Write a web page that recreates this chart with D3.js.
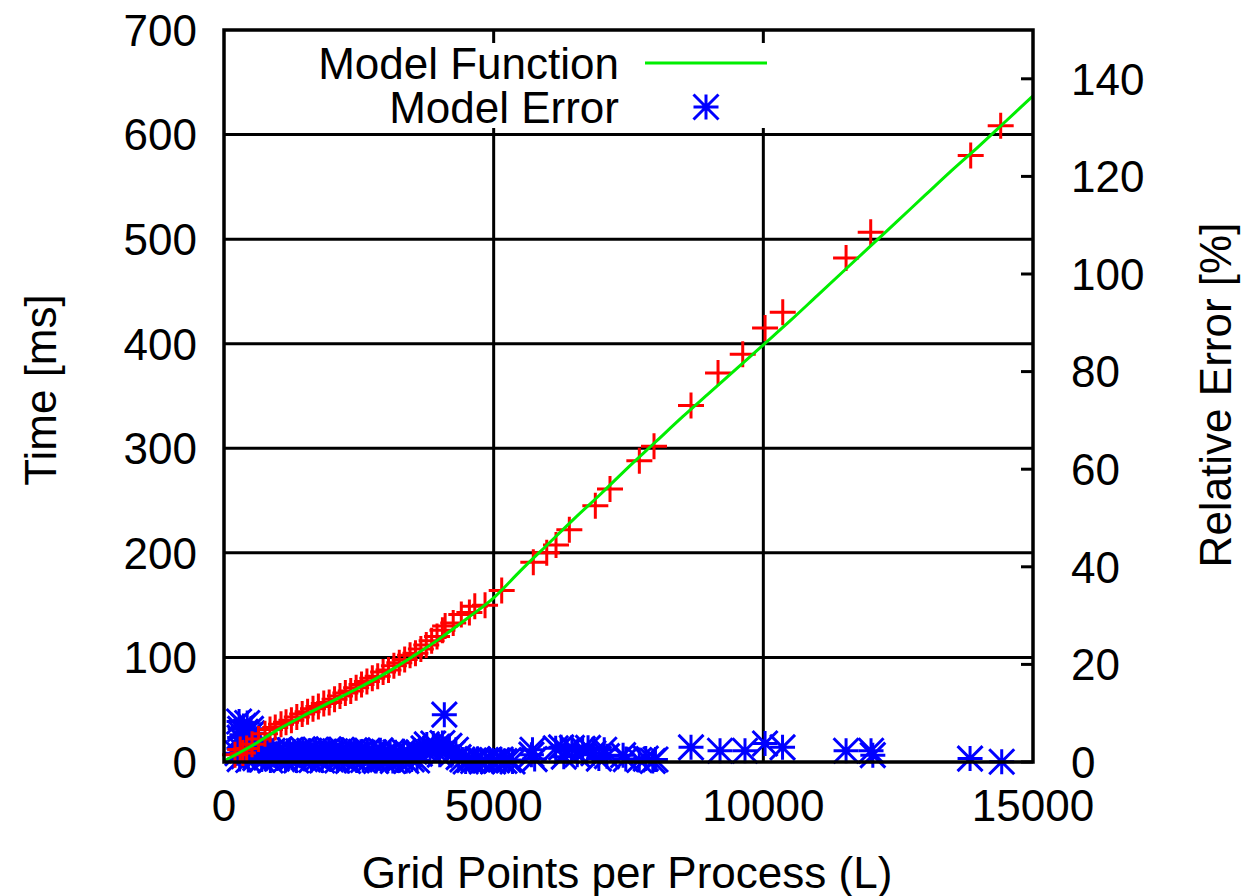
<!DOCTYPE html>
<html>
<head>
<meta charset="utf-8">
<script src="https://cdn.jsdelivr.net/npm/d3@7"></script>
<style>
  html, body { margin: 0; padding: 0; background: #fff; }
  svg { display: block; }
  text { font-family: "Liberation Sans", Arial, Helvetica, sans-serif; fill: #000; }
</style>
</head>
<body>
<svg id="chart" width="1242" height="896"></svg>
<script>
// ---------- data ----------
const xTicks = [0, 5000, 10000, 15000];
const yLeftTicks = [0, 100, 200, 300, 400, 500, 600, 700];
const yRightTicks = [0, 20, 40, 60, 80, 100, 120, 140];

// measured times (red +)
const measuredL = [204, 300, 350, 420, 520, 640, 760, 853, 950,
  1057, 1150, 1250, 1350, 1450, 1550, 1650, 1750, 1850, 1950,
  2050, 2150, 2250, 2350, 2450, 2550, 2650, 2750, 2850, 2950,
  3050, 3150, 3250, 3350, 3450, 3550, 3650, 3750, 3850, 3950,
  4050, 4100, 4250, 4400, 4550, 4650, 4840,
  5149, 5735, 5984, 6156, 6403, 6885, 7157, 7701, 7973,
  8659, 9160, 9618, 10032, 10360, 11534, 11991, 13845, 14401];
const measuredMs = [7, 12, 8.5, 13, 17, 22, 27, 31, 33,
  36, 38, 40, 43, 46, 48, 51, 53, 56, 57,
  60, 63, 66, 68, 71, 74, 77, 80, 82, 86,
  88, 92, 95, 98, 102, 104, 108, 112, 116, 120,
  126, 130, 133, 141, 143, 149, 150,
  164, 191, 200, 207.5, 222, 245, 261, 288, 302,
  341, 372, 390, 415, 430, 482, 506.5, 580, 608.5];

// model function (green line)
const modelL = [0, 500, 1000, 1500, 2000, 2500, 3000, 3500, 4000, 4500, 5000,
  5500, 6000, 6500, 7000, 7500, 8000, 8500, 9000, 9500, 10000,
  10500, 11000, 11500, 12000, 12500, 13000, 13500, 14000, 14500, 15000];
const modelMs = [1, 15, 31, 45, 58, 71, 85, 101, 118, 137, 157,
  183, 208, 233, 257, 282, 306, 330, 353, 376, 399,
  422, 446, 470, 494, 518, 542, 566, 589, 613, 637];

// model error (blue asterisks, right axis %)
const errorL = [280, 300, 330, 360, 400, 430, 470, 500, 520, 290,
  250, 290, 330, 370, 410, 450, 490, 540, 580, 620, 660, 700, 740, 780, 820, 860, 900, 940, 980,
  1020, 1060, 1100, 1140, 1180, 1220, 1260, 1300, 1340, 1380, 1420, 1460, 1500, 1540, 1580, 1620,
  1660, 1700, 1740, 1780, 1820, 1860, 1900, 1940, 1980, 2020, 2060, 2100, 2140, 2180, 2220, 2260,
  2300, 2340, 2380, 2420, 2460, 2500, 2540, 2580, 2620, 2660, 2700, 2740, 2780, 2820, 2860, 2900,
  2940, 2980,
  3030, 3080, 3130, 3180, 3230, 3280, 3330, 3380, 3430, 3480, 3530, 3580, 3630,
  3700, 3760, 3820, 3880, 3940, 4000, 4050, 4085, 4120, 4180, 4240, 4300, 4350,
  4420, 4480, 4550, 4620, 4700, 4780, 4850, 4920, 4990, 5060, 5130, 5200, 5280, 5350,
  5700, 5720, 5760, 6150, 6250, 6300, 6350, 6450, 6550, 6650,
  6750, 6850, 6950, 7050, 7100, 7400, 7450, 7700, 7820, 7950, 8000,
  8659, 9197, 9660, 10032, 10356, 11534, 11997, 12030, 13833, 14420];
const errorPct = [8.3, 6.8, 5.6, 7.4, 6.2, 8.0, 5.4, 6.8, 5.9, 5.0,
  1.8, 0.6, 2.4, 1.2, 2.0, 0.4, 2.5, 1.5, 0.8, 2.2, 1.7, 0.5, 2.6, 1.0, 1.9, 0.3, 2.3, 1.4, 0.7,
  2.5, 1.1, 2.0, 0.4, 1.6, 2.4, 0.9, 1.8, 0.3, 2.2, 1.3, 2.6, 0.6, 1.7, 2.3, 0.4,
  1.5, 2.5, 0.8, 1.9, 0.3, 2.1, 1.2, 2.6, 0.5, 1.6, 2.2, 0.3, 1.4, 2.5, 0.7, 1.8,
  0.2, 2.0, 1.0, 2.4, 0.3, 1.5, 2.1, 0.4, 1.7, 2.3, 0.6, 1.3, 2.0, 0.2, 1.1, 2.4,
  0.5, 1.6,
  0.4, 1.8, 0.2, 2.0, 0.3, 1.2, 2.2, 0.2, 1.5, 0.5, 2.1, 0.3, 1.7,
  2.8, 3.6, 2.2, 3.8, 3.0, 1.5, 3.9, 9.7, 2.6, 3.3, 1.8, 2.5, 1.0,
  0.5, 0.1, 0.4, 0.2, 0.6, 0.1, 0.3, 0.5, 0.1, 0.3, 0.5, 0.2, 0.4, 0.1,
  1.5, 2.5, 0.6, 2.8, 3.0, 1.1, 2.2, 2.9, 1.5, 2.7,
  2.9, 1.8, 0.7, 2.5, 1.2, 1.4, 0.6, 0.4, 0.7, 0.2, 0.5,
  3.0, 2.3, 2.3, 3.8, 3.0, 2.3, 2.3, 1.4, 0.7, 0.05];

// ---------- drawing ----------
const svg = d3.select("#chart");
const pL = 224, pR = 1033, pT = 30, pB = 762;
const x = d3.scaleLinear().domain([0, 15000]).range([pL, pR]);
const yL = d3.scaleLinear().domain([0, 700]).range([pB, pT]);
const yR = d3.scaleLinear().domain([0, 150]).range([pB, pT]);

const FS = 44;

// grid
const grid = svg.append("g").attr("stroke", "#000").attr("stroke-width", 3);
grid.selectAll("line.gx").data(xTicks.slice(1, -1)).join("line")
  .attr("x1", d => x(d)).attr("x2", d => x(d)).attr("y1", pT).attr("y2", pB);
grid.selectAll("line.gy").data(yLeftTicks.slice(1, -1)).join("line")
  .attr("x1", pL).attr("x2", pR).attr("y1", d => yL(d)).attr("y2", d => yL(d));

// legend box (white, occludes grid)
svg.append("rect").attr("x", 300).attr("y", 43).attr("width", 472).attr("height", 85).attr("fill", "#fff");

// right axis inward ticks
svg.append("g").attr("stroke", "#000").attr("stroke-width", 3)
  .selectAll("line").data(yRightTicks).join("line")
  .attr("x1", pR - 12).attr("x2", pR).attr("y1", d => yR(d)).attr("y2", d => yR(d));

// markers
function asterisk(g, cx, cy) {
  const s = 12.5;
  g.append("path").attr("d",
    `M${cx - s},${cy}H${cx + s}M${cx},${cy - s}V${cy + s}M${cx - s},${cy - s}L${cx + s},${cy + s}M${cx - s},${cy + s}L${cx + s},${cy - s}`);
}
const errData = errorL.map((l, i) => ({ l, e: errorPct[i] }));
const gErr = svg.append("g").attr("stroke", "#0000ff").attr("stroke-width", 3).attr("fill", "none");
errData.forEach(d => asterisk(gErr, x(d.l), yR(d.e)));

const measData = measuredL.map((l, i) => ({ l, t: measuredMs[i] }));
const gMeas = svg.append("g").attr("stroke", "#ff0000").attr("stroke-width", 3).attr("fill", "none");
gMeas.selectAll("path").data(measData).join("path")
  .attr("d", d => `M${x(d.l) - 13},${yL(d.t)}H${x(d.l) + 13}M${x(d.l)},${yL(d.t) - 13}V${yL(d.t) + 13}`);

const modelData = modelL.map((l, i) => ({ l, t: modelMs[i] }));
svg.append("path").datum(modelData)
  .attr("fill", "none").attr("stroke", "#00ee00").attr("stroke-width", 3)
  .attr("d", d3.line().x(d => x(d.l)).y(d => yL(d.t)).curve(d3.curveMonotoneX));

// border
svg.append("rect").attr("x", pL).attr("y", pT).attr("width", pR - pL).attr("height", pB - pT)
  .attr("fill", "none").attr("stroke", "#000").attr("stroke-width", 3.5);

// tick labels
svg.append("g").selectAll("text").data(yLeftTicks).join("text")
  .attr("x", 197).attr("y", d => yL(d)).attr("dy", "0.36em")
  .attr("text-anchor", "end").attr("font-size", FS).text(d => d);
svg.append("g").selectAll("text").data(yRightTicks).join("text")
  .attr("x", 1071).attr("y", d => yR(d)).attr("dy", "0.36em")
  .attr("text-anchor", "start").attr("font-size", FS).text(d => d);
svg.append("g").selectAll("text").data(xTicks).join("text")
  .attr("x", d => x(d)).attr("y", 821)
  .attr("text-anchor", "middle").attr("font-size", FS).text(d => d);

// axis titles
svg.append("text").attr("transform", "translate(56,390) rotate(-90)")
  .attr("text-anchor", "middle").attr("font-size", FS).text("Time [ms]");
svg.append("text").attr("transform", "translate(1231,395) rotate(-90)")
  .attr("text-anchor", "middle").attr("font-size", FS).text("Relative Error [%]");
svg.append("text").attr("x", 627).attr("y", 888)
  .attr("text-anchor", "middle").attr("font-size", FS).text("Grid Points per Process (L)");

// legend
const legend = [
  { label: "Model Function", y: 63 },
  { label: "Model Error", y: 107 }
];
legend.forEach(it => {
  svg.append("text").attr("x", 619).attr("y", it.y).attr("dy", "0.36em")
    .attr("text-anchor", "end").attr("font-size", FS).text(it.label);
});
svg.append("line").attr("x1", 645).attr("x2", 767).attr("y1", 63).attr("y2", 63)
  .attr("stroke", "#00ee00").attr("stroke-width", 3);
const gLeg = svg.append("g").attr("stroke", "#0000ff").attr("stroke-width", 3).attr("fill", "none");
asterisk(gLeg, 706, 107);
</script>
</body>
</html>
